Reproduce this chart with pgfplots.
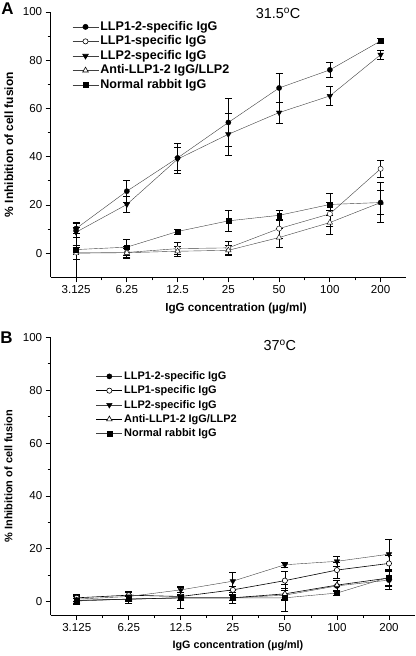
\documentclass[border=0pt]{standalone}
\usepackage{pgfplots}
\pgfplotsset{compat=1.18}
\usepackage{pgfplotstable}
\usepackage{fontspec}
\setmainfont{Liberation Sans}

\pgfplotstableread{
x y e
0 10.2 2.0
1 25.7 4.5
2 39.5 6.2
3 54.2 10.0
4 68.5 6.0
5 76.0 3.2
6 88.0 1.0
}\Aa
\pgfplotstableread{
x y e
0 0.3 3.0
1 0.3 2.5
2 1.9 2.5
3 2.2 2.7
4 10.2 4.0
5 16.3 5.0
6 35.0 3.5
}\Ab
\pgfplotstableread{
x y e
0 8.7 2.0
1 20.2 3.3
2 39.0 4.7
3 49.3 8.6
4 58.3 4.3
5 65.2 4.0
6 82.3 1.8
}\Ac
\pgfplotstableread{
x y e
0 0.0 2.5
1 0.2 2.0
2 0.8 2.0
3 1.2 2.0
4 6.5 4.0
5 12.7 5.0
6 21.0 5.0
}\Ad
\pgfplotstableread{
x y e
0 1.5 11.5
1 2.5 3.2
2 9.0 1.0
3 13.4 4.2
4 15.7 2.0
5 20.2 4.5
6 21.0 8.3
}\Ae

\pgfplotstableread{
x y e
0 0.5 1.5
1 1.0 1.5
2 1.5 4.0
3 1.5 2.0
4 2.5 2.0
5 6.0 2.0
6 8.2 3.5
}\Ba
\pgfplotstableread{
x y e
0 1.5 1.5
1 2.5 1.5
2 2.0 1.5
3 4.5 1.5
4 8.0 3.7
5 12.0 3.0
6 14.5 3.0
}\Bb
\pgfplotstableread{
x y e
0 1.0 1.5
1 2.0 1.5
2 4.5 1.5
3 7.8 3.3
4 14.0 1.0
5 15.3 2.0
6 18.0 5.8
}\Bc
\pgfplotstableread{
x y e
0 0.5 1.0
1 1.0 1.0
2 1.5 1.0
3 1.5 1.0
4 3.0 2.0
5 6.3 2.0
6 9.0 3.0
}\Bd
\pgfplotstableread{
x y e
0 0.3 1.0
1 1.0 1.0
2 1.5 1.0
3 1.5 1.0
4 1.5 5.0
5 3.3 1.0
6 9.3 3.0
}\Be

\pgfplotsset{
  panel/.style={
    scale only axis,
    axis x line*=bottom, axis y line*=left,
    axis line style={black, line width=0.8bp},
    xmin=-0.5, xmax=6.5,
    xtick={0,...,6},
    xticklabels={3.125,6.25,12.5,25,50,100,200},
    minor x tick num=1,
    ytick={0,20,40,60,80,100},
    minor y tick num=1,
    tick align=outside,
    major tick length=5bp, minor tick length=3bp,
    every tick/.style={black, line width=0.8bp},
    tick label style={font=\fontsize{11.6}{13}\selectfont},
    /pgf/number format/assume math mode=true,
    xlabel={IgG concentration (µg/ml)},
    ylabel={\% Inhibition of cell fusion},
    cycle list={{black!75, line width=0.6bp}},
    error bars/y dir=both, error bars/y explicit,
    error bars/error mark options={rotate=90, mark size=3.5bp, black, line width=0.6bp},
    error bars/error bar style={black, line width=0.7bp},
    legend cell align=left,
    legend image code/.code={\draw[mark repeat=2,mark phase=2] plot coordinates {(0bp,0bp) (13bp,0bp) (26bp,0bp)};},
  },
  sFC/.style={mark=*, mark size=2.6bp, mark options={fill=black, draw=black, solid}},
  sOC/.style={mark=*, mark size=2.6bp, mark options={fill=white, draw=black, solid}},
  sFT/.style={mark=triangle*, mark size=3.2bp, mark options={fill=black, draw=black, rotate=180, solid}},
  sOT/.style={mark=triangle*, mark size=3.2bp, mark options={fill=white, draw=black, solid}},
  sSQ/.style={mark=square*, mark size=2.4bp, mark options={fill=black, draw=black, solid}},
  lg/.style={black!75, line width=0.6bp},
}

\begin{document}
\begin{tikzpicture}
\path[use as bounding box] (0,0) rectangle (416bp,-656bp);

\node[font=\bfseries\fontsize{17}{17}\selectfont, anchor=center] at (7.5bp,-9bp) {A};
\node[font=\bfseries\fontsize{17}{17}\selectfont, anchor=center] at (6.5bp,-338bp) {B};

% Panel A
\begin{axis}[panel,
  at={(50.7bp,-12bp)}, anchor=north west,
  width=355.3bp, height=265.3bp,
  ymin=-10, ymax=100,
  clip=false,
  xlabel style={font=\bfseries\fontsize{11.7}{13}\selectfont, at={(axis description cs:0.5215,-0.118)}, anchor=center},
  ylabel style={font=\bfseries\fontsize{12}{13}\selectfont, at={(axis description cs:-0.118,0.5)}, anchor=center, rotate=0},
  legend style={at={(axis description cs:0.06,0.972)}, anchor=north west, draw=none, fill=none,
    font=\bfseries\fontsize{12.6}{13}\selectfont, inner sep=0pt, row sep=0bp,
    nodes={inner sep=1.5bp, text height=9.2bp, text depth=2.3bp}},
]
\addplot+[sFC, mark indices={1,2,3,4,5,6}, forget plot] table[x=x,y=y,y error=e] {\Aa};
\addplot+[sOC, forget plot] table[x=x,y=y,y error=e] {\Ab};
\addplot+[sFT, forget plot] table[x=x,y=y,y error=e] {\Ac};
\addplot+[sOT, forget plot] table[x=x,y=y,y error=e] {\Ad};
\addplot+[sSQ, mark indices={1,2,3,4,5,6}, forget plot] table[x=x,y=y,y error=e] {\Ae};
\addplot[sSQ, only marks, forget plot, error bars/y dir=none] coordinates {(6,88.0)};
\addplot[sFC, only marks, forget plot, error bars/y dir=none] coordinates {(6,21.0)};
\addlegendimage{lg, sFC}
\addlegendentry{LLP1-2-specific IgG}
\addlegendimage{lg, sOC}
\addlegendentry{LLP1-specific IgG}
\addlegendimage{lg, sFT}
\addlegendentry{LLP2-specific IgG}
\addlegendimage{lg, sOT}
\addlegendentry{Anti-LLP1-2 IgG/LLP2}
\addlegendimage{lg, sSQ}
\addlegendentry{Normal rabbit IgG}
\node[font=\fontsize{14.5}{14.5}\selectfont, anchor=center] at (axis description cs:0.64,0.995) {31.5\textsuperscript{o}C};
\end{axis}

% Panel B
\begin{axis}[panel,
  at={(50.7bp,-337.3bp)}, anchor=north west,
  width=364.3bp, height=277.7bp,
  ymin=-5, ymax=100,
  clip=false,
  xlabel style={font=\bfseries\fontsize{10.8}{13}\selectfont, at={(axis description cs:0.514,-0.112)}, anchor=center},
  ylabel style={font=\bfseries\fontsize{11}{13}\selectfont, at={(axis description cs:-0.116,0.5)}, anchor=center, rotate=0},
  legend style={at={(axis description cs:0.124,0.884)}, anchor=north west, draw=none, fill=none,
    font=\bfseries\fontsize{11}{12}\selectfont, inner sep=0pt, row sep=1bp,
    nodes={inner sep=1.5bp, text height=8.2bp, text depth=2.1bp}},
]
\addplot+[sFC] table[x=x,y=y,y error=e] {\Ba};
\addlegendentry{LLP1-2-specific IgG}
\addplot+[sOC] table[x=x,y=y,y error=e] {\Bb};
\addlegendentry{LLP1-specific IgG}
\addplot+[sFT] table[x=x,y=y,y error=e] {\Bc};
\addlegendentry{LLP2-specific IgG}
\addplot+[sOT] table[x=x,y=y,y error=e] {\Bd};
\addlegendentry{Anti-LLP1-2 IgG/LLP2}
\addplot+[sSQ] table[x=x,y=y,y error=e] {\Be};
\addlegendentry{Normal rabbit IgG}
\node[font=\fontsize{14.5}{14.5}\selectfont, anchor=center] at (axis description cs:0.629,0.970) {37\textsuperscript{o}C};
\end{axis}
\end{tikzpicture}
\end{document}
